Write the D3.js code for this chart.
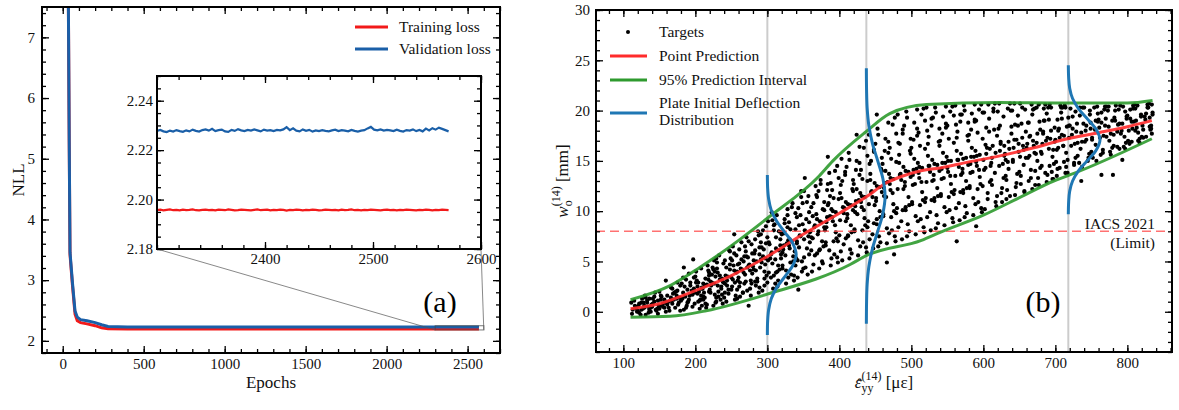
<!DOCTYPE html>
<html lang="en">
<head>
  <meta charset="UTF-8">
  <title>Loss curves and prediction interval</title>
  <script src="https://d3js.org/d3.v7.min.js"></script>
  <style>
    body { margin: 0; background: #fff; }
    svg { display: block; font-family: "Liberation Serif", "DejaVu Serif", serif; }
    .ax text { font-family: "Liberation Serif", "DejaVu Serif", serif; font-size: 15px; fill: #111; }
    .ax line { stroke: #000; stroke-width: 1.3; }
    .lbl { font-size: 17px; fill: #111; }
    .leg { font-size: 15.5px; fill: #111; }
  </style>
</head>
<body>
  <div id="chart"></div>

  <script>
    // ---- panel (a): loss curves ----
    const earlyEpochs = [28, 35, 40, 45, 60, 76, 90, 110, 150, 200, 240, 280, 400, 1000, 1600, 2297];
    const trainEarly = [9.6, 7.5, 5.3, 3.42, 2.92, 2.44, 2.33, 2.30, 2.28, 2.25, 2.215, 2.199, 2.197, 2.196, 2.196, 2.1957];
    const valEarly = [9.6, 7.5, 5.3, 3.46, 2.96, 2.49, 2.39, 2.35, 2.33, 2.30, 2.265, 2.236, 2.230, 2.228, 2.228, 2.2278];

    // last epochs, one value every 3 epochs from 2300
    const tailStart = 2300, tailStep = 3;
    const trainTail = [2.1957, 2.1959, 2.1956, 2.1958, 2.1960, 2.1957, 2.1958, 2.1956, 2.1959, 2.1957,
      2.1958, 2.1960, 2.1957, 2.1956, 2.1958, 2.1959, 2.1957, 2.1958, 2.1956, 2.1959,
      2.1958, 2.1957, 2.1960, 2.1958, 2.1956, 2.1957, 2.1959, 2.1958, 2.1957, 2.1956,
      2.1958, 2.1960, 2.1957, 2.1958, 2.1959, 2.1956, 2.1958, 2.1957, 2.1959, 2.1958,
      2.1955, 2.1958, 2.1957, 2.1959, 2.1958, 2.1956, 2.1958, 2.1957, 2.1959, 2.1958,
      2.1956, 2.1957, 2.1959, 2.1958, 2.1957, 2.1958, 2.1956, 2.1959, 2.1957, 2.1958,
      2.1960, 2.1957, 2.1958, 2.1956, 2.1958, 2.1957, 2.1959, 2.1958, 2.1957, 2.1956,
      2.1958, 2.1959, 2.1957, 2.1958, 2.1956, 2.1958, 2.1957, 2.1959, 2.1958, 2.1957,
      2.1956, 2.1958, 2.1957, 2.1959, 2.1958, 2.1956, 2.1958, 2.1957, 2.1959, 2.1958, 2.1957];
    const valTail = [2.2278, 2.2282, 2.2276, 2.2273, 2.2279, 2.2275, 2.2281, 2.2277, 2.2274, 2.2280,
      2.2276, 2.2283, 2.2278, 2.2275, 2.2281, 2.2284, 2.2279, 2.2286, 2.2277, 2.2281,
      2.2283, 2.2276, 2.2274, 2.2282, 2.2278, 2.2285, 2.2280, 2.2277, 2.2282, 2.2279,
      2.2284, 2.2280, 2.2276, 2.2283, 2.2279, 2.2281, 2.2277, 2.2282, 2.2280, 2.2284,
      2.2293, 2.2281, 2.2288, 2.2279, 2.2276, 2.2284, 2.2278, 2.2282, 2.2275, 2.2280,
      2.2277, 2.2281, 2.2278, 2.2276, 2.2280, 2.2283, 2.2277, 2.2281, 2.2279, 2.2276,
      2.2282, 2.2278, 2.2275, 2.2279, 2.2281, 2.2288, 2.2294, 2.2283, 2.2280, 2.2284,
      2.2279, 2.2282, 2.2280, 2.2277, 2.2283, 2.2278, 2.2275, 2.2281, 2.2279, 2.2284,
      2.2277, 2.2282, 2.2276, 2.2287, 2.2280, 2.2289, 2.2283, 2.2291, 2.2286, 2.2281, 2.2276];

    const lossXTicks = [0, 500, 1000, 1500, 2000, 2500];
    const lossYTicks = [2, 3, 4, 5, 6, 7];
    const insetXTicks = [2400, 2500, 2600];
    const insetYTicks = [2.18, 2.20, 2.22, 2.24];
    const lossNames = ['Training loss', 'Validation loss'];

    // ---- panel (b): deflection vs strain ----
    const predX = [110, 150, 200, 250, 300, 345, 400, 437, 465, 484, 512, 540, 580, 623, 670, 711, 760, 800, 834];
    const predY = [0.3, 0.8, 2.1, 3.6, 5.5, 7.5, 9.8, 11.4, 12.8, 13.4, 14.0, 14.3, 14.9, 15.5, 16.3, 17.1, 17.8, 18.4, 19.0];
    const upperX = [110, 165, 206, 262, 300, 372, 391, 437, 470, 521, 623, 700, 800, 835];
    const upperY = [1.2, 2.6, 4.4, 7.2, 9.3, 13.5, 15.0, 17.9, 19.7, 20.6, 20.8, 20.75, 20.75, 21.0];
    const lowerX = [110, 165, 215, 300, 415, 438, 514, 540, 600, 646, 701, 720, 834];
    const lowerY = [-0.55, -0.45, 0.1, 1.75, 4.7, 5.6, 7.1, 7.9, 9.6, 11.2, 13.1, 13.6, 17.2];

    // deflection distributions: centre strain, deflection values, horizontal offsets (strain units)
    const distCentres = [300, 437.5, 718];
    const distW = [
      [-2.3, -0.9, 0.2, 1.3, 2.4, 3.5, 4.6, 5.7, 6.8, 7.9, 9.0, 10.1, 11.2, 12.3, 13.6],
      [-1.2, 1.0, 2.75, 4.5, 6.25, 8.0, 9.75, 11.5, 13.25, 15.0, 16.75, 18.5, 20.25, 22.0, 24.2],
      [9.7, 10.95, 11.98, 13.0, 14.03, 15.05, 16.08, 17.1, 18.13, 19.15, 20.18, 21.2, 22.23, 23.25, 24.5]
    ];
    const distOff = [
      [0, 0.4, 1.8, 5.4, 13, 24.3, 35.3, 40, 35.3, 24.3, 13, 5.4, 1.8, 0.4, 0],
      [0, 0.3, 1.1, 3.5, 8.4, 15.8, 22.9, 26, 22.9, 15.8, 8.4, 3.5, 1.1, 0.3, 0],
      [0, 0.5, 1.9, 5.9, 14.3, 26.7, 38.8, 44, 38.8, 26.7, 14.3, 5.9, 1.9, 0.5, 0]
    ];
    const limitValue = 8;
    const limitLabel = ['IACS 2021', '(Limit)'];
    const strainTicks = [100, 200, 300, 400, 500, 600, 700, 800];
    const deflTicks = [0, 5, 10, 15, 20, 25, 30];
    const deflNames = ['Targets', 'Point Prediction', '95% Prediction Interval', 'Plate Initial Deflection', 'Distribution'];

    // targets [strain, deflection], first batch
    const targetsA = [
      [111,0.9],[113,0.2],[112,-0.2],[116,0.6],[118,0.3],[115,1.1],[119,0.0],[117,0.5],
      [122,0.8],[120,0.1],[126,1.3],[129,0.4],[124,-0.3],[121,0.6],[128,0.9],[125,0.2],
      [134,0.5],[131,1.4],[138,0.0],[133,0.9],[136,0.2],[139,0.7],[130,1.6],[135,-0.1],
      [143,1.0],[147,0.3],[141,1.3],[149,0.6],[144,1.9],[146,0.1],[140,0.5],[148,1.1],
      [152,1.2],[157,0.4],[150,2.0],[155,0.8],[159,0.0],[153,1.5],[158,1.0],[151,0.6],[159,3.1],
      [166,1.4],[161,0.7],[168,2.3],[163,1.0],[164,0.1],[169,1.8],[160,0.9],[167,1.1],
      [174,1.6],[172,0.4],[179,2.6],[170,1.2],[176,0.7],[173,2.0],[178,1.4],[175,2.9],
      [183,1.9],[188,0.6],[181,2.8],[186,1.5],[184,0.2],[189,2.2],[180,1.1],[187,3.2],[184,4.4],
      [195,2.1],[190,1.0],[198,3.4],[192,1.6],[196,0.5],[193,2.6],[199,1.9],[191,3.8],[197,5.2],
      [203,2.5],[207,1.2],[200,3.5],[209,0.6],[205,2.0],[201,4.0],[208,1.6],[204,2.9],[206,0.3],[202,3.1],[209,2.3],[204,1.0],
      [216,2.7],[211,1.5],[219,3.9],[214,0.8],[210,2.3],[217,4.6],[212,1.9],[218,3.2],[215,0.4],[213,2.6],[219,3.6],[211,1.2],
      [221,3.0],[227,1.7],[224,4.4],[229,1.0],[222,2.6],[226,5.1],[220,2.2],[228,3.5],[225,0.6],[223,2.9],[227,4.0],[229,1.4],
      [237,3.3],[232,2.0],[230,4.9],[235,1.2],[239,2.9],[233,5.6],[236,2.5],[231,3.9],[238,0.8],[234,3.2],[230,4.3],[237,1.7],
      [242,3.6],[246,2.2],[249,5.3],[240,1.4],[244,3.1],[247,6.1],[241,2.8],[248,4.2],[243,1.0],[245,3.5],[248,4.7],[241,1.9],
      [258,4.0],[251,2.5],[254,5.8],[256,1.6],[250,3.4],[252,6.5],[259,3.1],[253,4.6],[255,1.2],[257,3.9],[251,5.1],[258,2.2],[254,7.7],
      [263,4.3],[268,2.8],[261,6.2],[266,1.9],[269,3.7],[264,6.9],[260,3.4],[267,5.0],[262,1.5],[265,4.2],[268,5.5],[261,2.5],
      [275,4.7],[270,3.0],[278,6.7],[272,2.1],[276,4.1],[271,7.4],[279,3.8],[273,5.4],[277,1.6],[274,4.6],[270,6.0],[278,2.8],[274,0.6],
      [281,5.1],[286,3.3],[283,7.2],[289,2.4],[280,4.5],[287,8.0],[284,4.1],[282,5.8],[288,1.9],[285,5.0],[289,6.4],[283,3.0],
      [294,5.5],[299,3.6],[291,7.7],[296,2.6],[292,4.9],[298,8.5],[290,4.4],[295,6.2],[293,2.1],[297,5.3],[291,6.9],[296,3.3],
      [306,5.9],[302,3.9],[309,8.1],[300,2.9],[304,5.3],[301,9.0],[307,4.8],[303,6.7],[308,2.3],[305,5.7],[300,7.4],[309,3.6],[306,9.9],
      [312,6.3],[317,4.2],[310,8.7],[315,3.1],[319,5.7],[313,9.6],[311,5.2],[318,7.2],[314,2.5],[316,6.1],[319,7.9],[312,3.9],
      [327,6.8],[321,4.6],[324,9.2],[329,3.4],[322,6.2],[328,10.2],[325,5.6],[320,7.7],[326,2.8],[323,6.6],[328,8.4],[321,4.3],
      [331,7.2],[336,5.0],[339,9.8],[333,3.7],[330,6.6],[335,10.8],[338,6.0],[332,8.2],[337,3.1],[334,7.0],[330,8.9],[339,4.6],
      [345,7.6],[340,5.3],[343,10.3],[348,4.0],[341,7.0],[347,11.4],[344,6.4],[349,8.7],[342,3.4],[346,7.5],[341,9.4],[348,5.0],[343,2.2],
      [352,8.1],[358,5.7],[355,10.9],[350,4.3],[357,7.5],[351,12.0],[359,6.9],[354,9.2],[356,3.7],[353,8.0],[358,9.9],[351,5.4],[352,13.3],
      [366,8.6],[361,6.1],[369,11.4],[364,4.7],[360,8.0],[367,12.5],[363,7.3],[368,9.7],[362,4.0],[365,8.4],[361,10.4],[369,5.8],
      [373,9.0],[378,6.5],[371,12.0],[376,5.0],[379,8.4],[374,13.1],[370,7.7],[377,10.2],[372,4.3],[375,8.9],[379,10.9],[373,6.2],
      [387,9.5],[381,6.9],[384,12.7],[389,5.3],[382,8.9],[386,13.8],[380,8.1],[385,10.8],[388,4.6],[383,9.4],[387,11.5],[381,6.6],[384,15.4],
      [391,10.0],[396,7.3],[399,13.3],[393,5.7],[390,9.4],[397,14.5],[394,8.6],[392,11.3],[398,4.9],[395,9.9],[390,12.1],[398,7.0],
      [405,10.4],[400,7.6],[408,13.9],[402,6.0],[406,9.8],[403,15.2],[409,9.0],[401,11.8],[404,5.1],[407,10.3],[402,12.6],[409,7.3],
      [412,10.7],[417,7.9],[410,14.4],[415,6.2],[419,10.1],[413,15.8],[411,9.3],[418,12.2],[414,5.3],[416,10.6],[419,13.1],[412,7.6],
      [427,11.1],[421,8.2],[424,15.0],[429,6.5],[422,10.5],[428,16.4],[425,9.7],[420,12.7],[426,5.6],[423,11.0],[428,13.6],[421,8.0],[424,17.6],
      [431,11.5],[436,8.6],[439,15.5],[433,6.9],[430,10.9],[437,17.0],[434,10.1],[432,13.2],[438,5.9],[435,11.4],[430,14.1],[439,8.4],
      [445,12.0],[440,9.0],[448,16.1],[442,7.2],[446,11.4],[441,17.6],[449,10.6],[443,13.7],[447,6.3],[444,11.9],[442,14.7],[448,8.8],
      [452,12.5],[457,9.4],[450,16.7],[455,7.5],[459,11.9],[453,18.2],[451,11.0],[458,14.2],[454,6.5],[456,12.4],[459,15.3],[452,9.2],[452,19.6],
      [467,12.9],[461,9.7],[464,17.2],[469,7.8],[462,12.3],[468,18.8],[465,11.4],[460,14.7],[466,6.8],[463,12.8],[468,15.8],[461,9.5],[466,4.9],
      [471,13.3],[476,10.0],[479,17.7],[473,8.1],[470,12.7],[477,19.3],[474,11.8],[472,15.2],[478,7.0],[475,13.2],[470,16.3],[479,9.8],[476,5.7],
      [485,13.7],[480,10.3],[488,18.1],[482,8.4],[486,13.1],[481,19.6],[489,12.2],[483,15.6],[487,7.2],[484,13.6],[482,16.8],[488,10.1],
      [492,14.0],[497,10.6],[490,18.5],[495,8.7],[499,13.4],[493,19.9],[491,12.5],[498,16.0],[494,7.5],[496,13.9],[499,17.2],[492,10.4],
      [507,14.2],[501,10.9],[504,18.8],[509,9.0],[502,13.6],[508,20.1],[505,12.7],[500,16.3],[506,7.7],[503,14.1],[508,17.5],[501,10.7],
      [511,14.4],[516,11.1],[519,19.0],[513,9.2],[510,13.8],[517,20.2],[514,12.9],[512,16.5],[518,7.9],[515,14.3],[510,17.8],[519,10.9],
      [525,14.5],[520,11.3],[528,19.2],[522,9.4],[526,13.9],[521,20.3],[529,13.0],[523,16.7],[527,8.1],[524,14.5],[522,18.0],[528,11.1],
      [532,14.7],[537,11.5],[530,19.3],[535,9.6],[539,14.0],[533,20.3],[531,13.1],[538,16.9],[534,8.3],[536,14.6],[539,18.2],[532,11.3],
      [547,14.8],[541,11.7],[544,19.4],[549,9.9],[542,14.2],[548,20.4],[545,13.3],[540,17.0],[546,8.6],[543,14.8],[548,18.3],[541,11.5],
      [551,15.0],[556,11.9],[559,19.5],[553,10.1],[550,14.3],[557,20.4],[554,13.5],[552,17.2],[558,8.9],[555,15.0],[550,18.5],[559,11.7],
      [565,15.1],[560,12.1],[568,19.6],[562,10.3],[566,14.4],[561,20.5],[569,13.6],[563,17.3],[567,9.1],[564,15.1],[562,18.6],[568,11.9],[563,7.0],
      [572,15.2],[577,12.3],[570,19.6],[575,10.5],[579,14.6],[573,20.5],[571,13.8],[578,17.5],[574,9.4],[576,15.3],[579,18.8],[572,12.1],
      [587,15.4],[581,12.5],[584,19.7],[589,10.7],[582,14.7],[588,20.6],[585,13.9],[580,17.6],[586,9.6],[583,15.4],[588,18.9],[581,12.3],
      [591,15.5],[596,12.7],[599,19.8],[593,10.9],[590,14.9],[597,20.6],[594,14.1],[592,17.8],[598,9.9],[595,15.6],[590,19.0],[599,12.5],[590,8.5],
      [604,15.7],[609,12.9],[601,19.8],[606,11.2],[600,15.1],[607,20.6],[603,14.3],[608,17.9],[602,10.2],[605,16.3],
      [617,15.8],[611,13.1],[614,19.9],[619,11.5],[612,15.3],[616,20.7],[610,14.5],[615,18.1],[618,10.5],[613,16.5],
      [623,16.0],[628,13.3],[620,19.9],[625,11.8],[629,15.5],[622,20.7],[627,14.7],[621,18.2],[626,10.9],[624,16.7],
      [636,16.2],[631,13.5],[638,20.0],[633,12.1],[630,15.7],[637,20.7],[634,14.9],[639,18.4],[632,11.2],[635,16.9],
      [642,16.3],[647,13.7],[640,20.0],[645,12.4],[649,15.9],[643,20.7],[641,15.1],[648,18.5],[644,11.6],[646,17.1],
      [655,16.5],[650,13.9],[658,20.1],[652,12.7],[656,16.1],[651,20.7],[659,15.3],[653,18.7],[657,11.9],[654,17.3],
      [661,16.7],[666,14.1],[669,20.1],[663,13.0],[660,16.3],[667,20.6],[664,15.5],[662,18.8],[668,12.2],[665,17.5],
      [674,16.8],[679,14.3],[671,20.2],[676,13.3],[670,16.5],[677,20.6],[673,15.7],[678,18.9],[672,12.6],[675,17.7],
      [687,17.0],[681,14.5],[684,20.2],[689,13.6],[682,16.7],[686,20.6],[680,15.9],[685,19.0],[688,12.9],[683,17.9],
      [693,17.2],[698,14.7],[690,20.3],[695,13.9],[699,16.9],[692,20.6],[697,16.1],[691,19.1],[696,13.2],[694,18.0],
      [706,17.3],[701,14.9],[708,20.3],[703,14.2],[700,17.1],[707,20.5],[704,16.3],[709,19.2],[702,13.5],[705,18.2],
      [712,17.5],[717,15.1],[710,20.3],[715,14.4],[719,17.3],[713,20.5],[711,16.5],[718,19.3],[714,13.8],[716,18.4],
      [723,17.6],[728,15.3],[721,20.2],[726,14.6],[720,18.5],[727,16.7],[724,19.4],
      [736,17.8],[731,15.5],[738,20.3],[733,14.8],[730,18.7],[737,16.9],[734,19.5],[736,13.0],
      [742,18.0],[747,15.7],[740,20.3],[745,15.0],[749,18.8],[743,17.1],[748,19.6],
      [755,18.1],[750,15.9],[758,20.4],[752,15.3],[756,19.0],[751,17.3],[759,19.7],
      [761,18.3],[766,16.1],[769,20.4],[763,15.6],[760,19.1],[767,17.5],[764,19.8],[764,13.6],
      [774,18.4],[779,16.3],[771,20.4],[776,15.9],[770,19.2],[777,17.7],[773,20.0],[780,13.6],
      [787,18.6],[781,16.5],[784,20.5],[789,16.2],[782,19.3],[786,17.9],[783,20.0],
      [793,18.7],[798,16.8],[790,20.5],[795,16.4],[799,19.4],[792,18.0],[797,19.9],[793,15.1],
      [806,18.9],[801,17.0],[808,20.5],[803,16.7],[800,19.5],[807,18.2],[804,20.1],
      [812,19.0],[817,17.2],[810,20.6],[815,17.0],[819,19.6],[813,18.3],[811,20.2],
      [825,19.1],[820,17.4],[828,20.6],[822,17.3],[826,19.7],[821,18.5],[829,20.3],
      [831,19.3],[834,17.7],[830,20.7],[833,18.5],[835,19.8],[832,18.1]
    ];

    // targets, second batch
    const targetsB = [
      [127,0.3],[133,1.1],[122,-0.1],[138,0.4],[125,0.9],[131,-0.3],[136,1.3],[129,0.6],
      [145,0.2],[152,1.6],[141,0.8],[157,1.2],[148,-0.2],[155,0.5],[143,1.5],[159,0.9],[150,0.3],
      [163,0.4],[171,1.9],[177,0.9],[166,2.4],[174,1.3],[161,1.6],[179,0.1],[168,0.8],[175,2.1],
      [182,1.3],[193,2.9],[187,0.4],[198,2.3],[185,2.5],[191,1.2],[196,1.7],[183,3.4],[189,0.9],[199,0.8],
      [203,1.8],[214,3.3],[208,4.3],[219,2.0],[206,1.1],[211,2.8],[216,0.7],[201,2.9],[218,4.1],[209,2.4],[213,1.4],
      [223,3.7],[236,2.3],[229,5.3],[232,1.5],[226,2.8],[239,4.8],[221,1.9],[234,3.6],[228,0.9],[238,3.0],[225,4.2],[231,2.6],
      [243,4.4],[255,2.9],[248,6.0],[259,4.7],[246,1.8],[252,3.2],[241,5.1],[257,5.6],[250,2.2],[254,4.1],[244,2.6],[258,1.3],
      [264,5.2],[277,3.1],[269,6.5],[272,4.4],[262,2.9],[279,5.8],[267,3.9],[274,7.0],[261,4.8],[276,2.3],[271,5.5],[266,1.9],
      [283,6.1],[296,4.0],[288,7.6],[291,5.2],[286,3.0],[298,6.8],[281,4.2],[294,8.1],[289,5.7],[284,2.6],[297,4.7],[292,6.4],
      [302,6.9],[315,4.6],[309,8.6],[318,6.6],[305,3.4],[312,7.4],[319,5.3],[307,9.1],[314,4.0],[301,5.1],[316,8.0],[311,2.8],
      [323,7.8],[336,5.5],[328,9.6],[331,6.3],[326,4.1],[339,8.2],[321,5.9],[334,10.4],[329,7.1],[337,3.6],[324,8.8],[332,4.9],
      [344,8.6],[355,6.3],[349,10.8],[358,8.9],[342,5.1],[351,7.2],[357,11.5],[346,9.6],[353,4.4],[341,6.8],[359,7.9],[347,12.0],
      [363,9.5],[376,7.0],[368,11.6],[371,8.0],[366,5.6],[379,10.1],[361,7.4],[374,12.7],[369,9.2],[377,4.8],[364,10.8],[372,6.1],
      [384,10.6],[395,7.9],[388,12.8],[391,9.0],[386,6.1],[399,11.2],[382,8.4],[394,14.0],[389,10.2],[397,5.4],[383,12.1],[392,7.0],
      [403,11.3],[416,8.6],[408,13.6],[411,9.7],[406,6.7],[419,12.0],[401,9.1],[414,15.1],[409,10.9],[417,5.8],[404,13.0],[412,7.5],
      [424,12.2],[435,9.3],[428,14.8],[431,10.4],[426,7.1],[439,13.0],[422,9.9],[434,16.3],[429,11.8],[437,6.4],[423,14.1],[432,8.1],
      [443,13.1],[456,10.0],[448,15.9],[451,11.3],[446,7.7],[459,14.0],[441,10.7],[454,17.6],[449,12.8],[457,6.9],[444,15.0],[452,8.7],
      [464,14.0],[475,10.7],[468,16.9],[471,12.1],[466,8.3],[479,14.9],[462,11.5],[474,18.6],[469,13.7],[477,7.5],[463,16.0],[472,9.4],
      [483,14.8],[496,11.4],[488,17.7],[491,12.9],[486,9.0],[499,15.7],[481,12.2],[494,19.3],[489,14.4],[497,8.0],[484,16.7],[492,10.1],
      [504,15.2],[515,11.9],[508,18.2],[511,13.3],[506,9.5],[519,16.2],[502,12.6],[514,19.6],[509,14.8],[517,8.4],[503,17.1],[512,10.6],
      [523,15.5],[536,12.3],[528,18.5],[531,13.6],[526,9.9],[539,16.5],[521,12.9],[534,19.8],[529,15.1],[537,8.8],[524,17.4],[532,11.0],
      [544,15.8],[555,12.7],[548,18.7],[551,13.9],[546,10.4],[559,16.8],[542,13.2],[554,19.9],[549,15.4],[557,9.3],[543,17.7],[552,11.4],
      [563,16.0],[576,13.0],[568,18.9],[571,14.2],[566,10.8],[579,17.0],[561,13.5],[574,20.0],[569,15.7],[577,9.8],[564,17.9],[572,11.8],
      [584,16.3],[595,13.4],[588,19.1],[591,14.5],[586,11.3],[599,17.2],[582,13.8],[594,20.1],[589,16.0],[597,10.3],[583,18.1],[592,12.2],
      [603,16.6],[616,13.8],[608,19.2],[611,14.8],[606,11.8],[619,17.5],[601,14.1],[614,20.2],[609,16.2],[617,10.9],[604,18.3],[612,12.6],
      [624,16.9],[635,14.2],[628,19.4],[631,15.1],[626,12.3],[639,17.7],[622,14.5],[634,20.2],[629,16.5],[637,11.5],[623,18.5],[632,13.1],
      [643,17.1],[656,14.6],[648,19.5],[651,15.4],[646,12.8],[659,17.9],[641,14.9],[654,20.3],[649,16.7],[657,12.0],[644,18.6],[652,13.5],
      [664,17.4],[675,15.0],[668,19.6],[671,15.8],[666,13.3],[679,18.1],[662,15.3],[674,20.3],[669,17.0],[677,12.6],[663,18.8],[672,14.0],
      [683,17.7],[696,15.4],[688,19.7],[691,16.2],[686,13.8],[699,18.3],[681,15.7],[694,20.3],[689,17.3],[697,13.2],[684,19.0],[692,14.5],
      [704,18.0],[715,15.8],[708,19.8],[711,16.5],[706,14.3],[719,18.5],[702,16.1],[714,20.3],[709,17.6],[717,13.8],[703,19.1],[712,14.9],
      [724,18.2],[735,16.2],[728,19.9],[731,16.8],[726,14.8],[739,18.7],[722,16.5],[734,20.3],[729,17.9],[737,14.4],
      [743,18.5],[756,16.6],[748,20.0],[751,17.1],[746,15.3],[759,18.9],[741,16.9],[754,20.3],[749,18.2],[757,15.0],
      [764,18.8],[775,17.0],[768,20.1],[771,17.4],[766,15.8],[779,19.0],[762,17.3],[774,20.4],[769,18.5],[777,15.6],
      [783,19.0],[796,17.4],[788,20.1],[791,17.7],[786,16.4],[799,19.2],[781,17.6],[794,20.4],[789,18.7],[797,16.2],
      [804,19.2],[815,17.8],[808,20.2],[811,18.0],[806,16.9],[819,19.4],[802,18.0],[814,20.5],[809,18.9],[817,16.8],
      [824,19.4],[833,18.2],[828,20.3],[831,18.4],[826,17.4],[835,19.6],[822,18.1],[834,20.6]
    ];

    const RED = '#f21a1a', BLUE = '#1a5fa8';
    const PRED_RED = '#ff2b2b', GREEN = '#2e9a2e', DIST_BLUE = '#1f77b4';

    const svg = d3.select('#chart').append('svg')
      .attr('width', 1179)
      .attr('height', 410);

    // frame with inward ticks on all four sides
    function drawFrame(g, x, y, w, h, o) {
      const add = (axis, tr) => g.append('g').attr('class', 'ax')
        .attr('transform', tr).call(axis)
        .call(s => s.select('.domain').remove());
      add(d3.axisBottom(x).tickValues(o.xMajor).tickSize(-7).tickPadding(o.xPad || 5).tickFormat(o.xFmt), `translate(0,${h})`);
      add(d3.axisBottom(x).tickValues(o.xMinor).tickSize(-4).tickFormat(''), `translate(0,${h})`);
      add(d3.axisTop(x).tickValues(o.xMajor).tickSize(-7).tickFormat(''), 'translate(0,0)');
      add(d3.axisTop(x).tickValues(o.xMinor).tickSize(-4).tickFormat(''), 'translate(0,0)');
      add(d3.axisLeft(y).tickValues(o.yMajor).tickSize(-7).tickPadding(o.yPad || 6).tickFormat(o.yFmt), 'translate(0,0)');
      add(d3.axisLeft(y).tickValues(o.yMinor).tickSize(-4).tickFormat(''), 'translate(0,0)');
      add(d3.axisRight(y).tickValues(o.yMajor).tickSize(-7).tickFormat(''), `translate(${w},0)`);
      add(d3.axisRight(y).tickValues(o.yMinor).tickSize(-4).tickFormat(''), `translate(${w},0)`);
      g.append('rect')
        .attr('width', w).attr('height', h)
        .attr('fill', 'none').attr('stroke', '#000').attr('stroke-width', 2);
    }

    // ================= panel (a) =================
    const A = { left: 42, top: 7, w: 458, h: 346 };
    const ga = svg.append('g').attr('transform', `translate(${A.left},${A.top})`);
    const xa = d3.scaleLinear().domain([-128, 2700]).range([0, A.w]);
    const ya = d3.scaleLinear().domain([1.8, 7.5]).range([A.h, 0]);

    const tailEpochs = valTail.map((_, i) => tailStart + i * tailStep);
    const trainSeries = earlyEpochs.map((e, i) => [e, trainEarly[i]])
      .concat(tailEpochs.map((e, i) => [e, trainTail[i]]));
    const valSeries = earlyEpochs.map((e, i) => [e, valEarly[i]])
      .concat(tailEpochs.map((e, i) => [e, valTail[i]]));

    ga.append('clipPath').attr('id', 'clipA')
      .append('rect').attr('width', A.w).attr('height', A.h);

    const lineA = d3.line().x(d => xa(d[0])).y(d => ya(d[1]));
    const plotA = ga.append('g').attr('clip-path', 'url(#clipA)');
    plotA.append('path').datum(trainSeries)
      .attr('d', lineA).attr('fill', 'none').attr('stroke', RED).attr('stroke-width', 3);
    plotA.append('path').datum(valSeries)
      .attr('d', lineA).attr('fill', 'none').attr('stroke', BLUE).attr('stroke-width', 3);

    drawFrame(ga, xa, ya, A.w, A.h, {
      xMajor: lossXTicks, xMinor: d3.range(-100, 2701, 100), xFmt: d3.format('d'),
      yMajor: lossYTicks, yMinor: d3.range(1.8, 7.5, 0.2), yFmt: d3.format('d'), yPad: 7
    });

    // zoom indicator
    const zoomBox = { x0: 2300, x1: 2600, y0: 2.18, y1: 2.25 };
    ga.append('rect')
      .attr('x', xa(zoomBox.x0)).attr('y', ya(zoomBox.y1))
      .attr('width', xa(zoomBox.x1) - xa(zoomBox.x0))
      .attr('height', ya(zoomBox.y0) - ya(zoomBox.y1))
      .attr('fill', 'none').attr('stroke', '#444').attr('stroke-opacity', 0.6).attr('stroke-width', 1.2);

    // inset
    const I = { left: 157, top: 76, w: 324, h: 173 };
    const xi = d3.scaleLinear().domain([zoomBox.x0, zoomBox.x1]).range([0, I.w]);
    const yi = d3.scaleLinear().domain([zoomBox.y0, zoomBox.y1]).range([I.h, 0]);

    // connector lines (svg coords)
    [[zoomBox.x0, I.left], [zoomBox.x1, I.left + I.w]].forEach(([ex, ix]) => {
      svg.append('line')
        .attr('x1', ix).attr('y1', I.top + I.h)
        .attr('x2', A.left + xa(ex)).attr('y2', A.top + ya(zoomBox.y0))
        .attr('stroke', '#555').attr('stroke-opacity', 0.7).attr('stroke-width', 1);
    });

    const gi = svg.append('g').attr('transform', `translate(${I.left},${I.top})`);
    gi.append('rect').attr('width', I.w).attr('height', I.h).attr('fill', '#fff');
    gi.append('clipPath').attr('id', 'clipI')
      .append('rect').attr('width', I.w).attr('height', I.h);
    const lineI = d3.line().x(d => xi(d[0])).y(d => yi(d[1]));
    const plotI = gi.append('g').attr('clip-path', 'url(#clipI)');
    plotI.append('path').datum(trainSeries)
      .attr('d', lineI).attr('fill', 'none').attr('stroke', RED).attr('stroke-width', 2.2);
    plotI.append('path').datum(valSeries)
      .attr('d', lineI).attr('fill', 'none').attr('stroke', BLUE).attr('stroke-width', 2.2);

    drawFrame(gi, xi, yi, I.w, I.h, {
      xMajor: insetXTicks, xMinor: d3.range(2300, 2601, 20), xFmt: d3.format('d'), xPad: 4,
      yMajor: insetYTicks, yMinor: d3.range(2.18, 2.2501, 0.005), yFmt: d3.format('.2f'), yPad: 4
    });

    // legend (a)
    const legA = svg.append('g');
    [RED, BLUE].forEach((c, i) => {
      const yy = 27 + i * 22;
      legA.append('line').attr('x1', 355).attr('x2', 388).attr('y1', yy).attr('y2', yy)
        .attr('stroke', c).attr('stroke-width', 3);
      legA.append('text').attr('class', 'leg').attr('x', 399).attr('y', yy + 5).text(lossNames[i]);
    });

    svg.append('text').attr('x', 440).attr('y', 312).attr('text-anchor', 'middle')
      .attr('font-size', 30).text('(a)');

    svg.append('text').attr('class', 'lbl').attr('text-anchor', 'middle')
      .attr('x', A.left + A.w / 2).attr('y', 388).text('Epochs');
    svg.append('text').attr('class', 'lbl').attr('text-anchor', 'middle')
      .attr('transform', `translate(24,${A.top + A.h / 2}) rotate(-90)`).text('NLL');

    // ================= panel (b) =================
    const B = { left: 596, top: 10, w: 576, h: 342 };
    const gb = svg.append('g').attr('transform', `translate(${B.left},${B.top})`);
    const xb = d3.scaleLinear().domain([62, 862]).range([0, B.w]);
    const yb = d3.scaleLinear().domain([-4, 30]).range([B.h, 0]);

    gb.append('clipPath').attr('id', 'clipB')
      .append('rect').attr('width', B.w).attr('height', B.h);
    const plotB = gb.append('g').attr('clip-path', 'url(#clipB)');

    // gray guide lines at the distribution positions
    plotB.selectAll('line.guide').data(distCentres).join('line')
      .attr('class', 'guide')
      .attr('x1', d => xb(d)).attr('x2', d => xb(d))
      .attr('y1', 0).attr('y2', B.h)
      .attr('stroke', '#cccccc').attr('stroke-width', 2);

    plotB.selectAll('circle').data(targetsA.concat(targetsB)).join('circle')
      .attr('cx', d => xb(d[0])).attr('cy', d => yb(d[1]))
      .attr('r', 2.1).attr('fill', '#000');

    plotB.append('line')
      .attr('x1', 0).attr('x2', B.w)
      .attr('y1', yb(limitValue)).attr('y2', yb(limitValue))
      .attr('stroke', '#ff4d4d').attr('stroke-opacity', 0.8)
      .attr('stroke-width', 1.5).attr('stroke-dasharray', '9,5');

    const smooth = d3.line().x(d => xb(d[0])).y(d => yb(d[1])).curve(d3.curveMonotoneX);
    plotB.append('path').datum(predX.map((x, i) => [x, predY[i]]))
      .attr('d', smooth).attr('fill', 'none').attr('stroke', PRED_RED)
      .attr('stroke-width', 3).attr('stroke-opacity', 0.9);
    [[upperX, upperY], [lowerX, lowerY]].forEach(([xs, ys]) => {
      plotB.append('path').datum(xs.map((x, i) => [x, ys[i]]))
        .attr('d', smooth).attr('fill', 'none').attr('stroke', GREEN)
        .attr('stroke-width', 3).attr('stroke-opacity', 0.9);
    });

    const bell = c => d3.line()
      .x(d => xb(c + d[1])).y(d => yb(d[0]))
      .curve(d3.curveCatmullRom.alpha(0.5));
    distCentres.forEach((c, k) => {
      plotB.append('path').datum(distW[k].map((w, i) => [w, distOff[k][i]]))
        .attr('d', bell(c)).attr('fill', 'none')
        .attr('stroke', DIST_BLUE).attr('stroke-width', 3);
    });

    drawFrame(gb, xb, yb, B.w, B.h, {
      xMajor: strainTicks, xMinor: d3.range(80, 861, 20), xFmt: d3.format('d'),
      yMajor: deflTicks, yMinor: d3.range(-4, 31, 1), yFmt: d3.format('d'), yPad: 6
    });

    // limit label
    limitLabel.forEach((t, i) => {
      svg.append('text').attr('class', 'leg').attr('text-anchor', 'end')
        .attr('x', 1155).attr('y', 229 + i * 19).text(t);
    });

    svg.append('text').attr('x', 1043).attr('y', 312).attr('text-anchor', 'middle')
      .attr('font-size', 30).text('(b)');

    // legend (b)
    const legB = svg.append('g');
    legB.append('circle').attr('cx', 628).attr('cy', 32).attr('r', 2).attr('fill', '#000');
    legB.append('text').attr('class', 'leg').attr('x', 659).attr('y', 37).text(deflNames[0]);
    [[PRED_RED, 56, deflNames[1]], [GREEN, 80, deflNames[2]]].forEach(([c, yy, t]) => {
      legB.append('line').attr('x1', 610).attr('x2', 647).attr('y1', yy).attr('y2', yy)
        .attr('stroke', c).attr('stroke-width', 3);
      legB.append('text').attr('class', 'leg').attr('x', 659).attr('y', yy + 5).text(t);
    });
    legB.append('line').attr('x1', 610).attr('x2', 647).attr('y1', 113).attr('y2', 113)
      .attr('stroke', DIST_BLUE).attr('stroke-width', 3);
    legB.append('text').attr('class', 'leg').attr('x', 659).attr('y', 108).text(deflNames[3]);
    legB.append('text').attr('class', 'leg').attr('x', 659).attr('y', 125).text(deflNames[4]);

    // axis labels (b)
    const xl = svg.append('text').attr('class', 'lbl').attr('text-anchor', 'middle')
      .attr('x', B.left + B.w / 2).attr('y', 388);
    xl.append('tspan').attr('font-style', 'italic').text('\u03b5');
    xl.append('tspan').attr('font-size', 12).attr('dy', 4).text('yy');
    xl.append('tspan').attr('font-size', 12).attr('dx', -12).attr('dy', -12).text('(14)');
    xl.append('tspan').attr('dy', 8).text(' [\u03bc\u03b5]');
    // hat over epsilon
    const p0 = xl.node().getStartPositionOfChar(0);
    svg.append('text').attr('class', 'lbl').attr('font-size', 16)
      .attr('x', p0.x + 2).attr('y', p0.y + 2).text('\u02c6');

    const yl = svg.append('text').attr('class', 'lbl').attr('text-anchor', 'middle')
      .attr('transform', `translate(568,${B.top + B.h / 2}) rotate(-90)`);
    yl.append('tspan').attr('font-style', 'italic').text('w');
    yl.append('tspan').attr('font-size', 12).attr('dy', 4).text('o');
    yl.append('tspan').attr('font-size', 12).attr('dx', -6).attr('dy', -12).text('(14)');
    yl.append('tspan').attr('dy', 8).text(' [mm]');
  </script>
</body>
</html>
